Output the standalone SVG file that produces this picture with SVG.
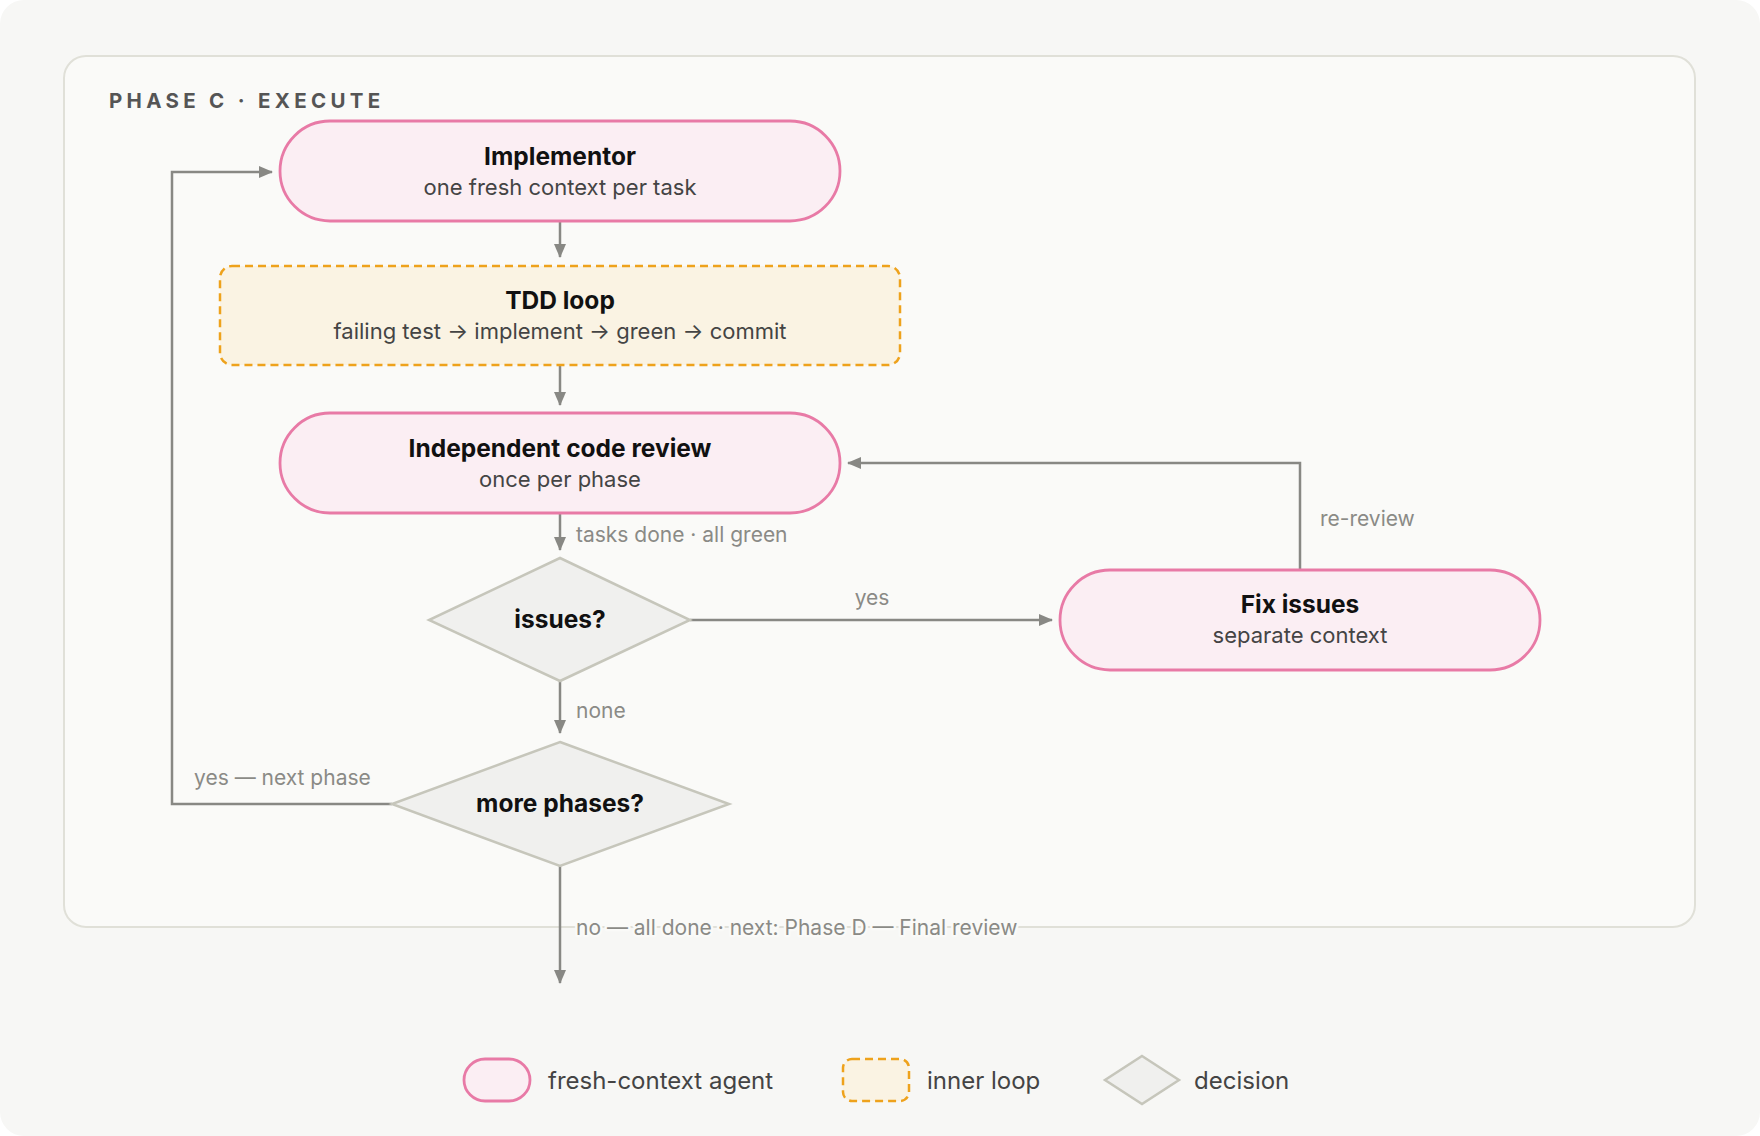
<svg xmlns="http://www.w3.org/2000/svg" width="1760" height="1136" viewBox="0 0 1760 1136">
<defs>
<style>
text{font-family:"Inter","Liberation Sans",sans-serif;dominant-baseline:central}
.agent{fill:#fbeef3;stroke:#e87aa6;stroke-width:2.8}
.loop{fill:#faf3e3;stroke:#eea21c;stroke-width:2.5;stroke-dasharray:8 5}
.dec{fill:#f0f0ee;stroke:#c6c6bb;stroke-width:2.5}
.t{font-size:24.5px;font-weight:700;fill:#111;text-anchor:middle}
.s{font-size:22px;fill:#444;text-anchor:middle}
.lbl{font-size:21px;fill:#8a8a86}
.conn{fill:none;stroke:#888884;stroke-width:2.5}
.leg{font-size:24px;fill:#444}
</style>
<marker id="ah" viewBox="0 0 14 12" refX="13" refY="6" markerWidth="14" markerHeight="12" markerUnits="userSpaceOnUse" orient="auto">
<path d="M0,0 L14,6 L0,12 Z" fill="#888884"/>
</marker>
</defs>
<rect x="0" y="0" width="1760" height="1136" rx="24" fill="#f7f7f5"/>
<rect x="64" y="56" width="1631" height="871" rx="22" fill="#fafaf8" stroke="#e0e0d8" stroke-width="2"/>
<text x="109" y="100" font-size="20.5" font-weight="700" fill="#555" letter-spacing="4.3">PHASE C · EXECUTE</text>

<g id="connectors">
<path class="conn" d="M560,221 V257" marker-end="url(#ah)"/>
<path class="conn" d="M560,365 V405" marker-end="url(#ah)"/>
<path class="conn" d="M560,513 V550" marker-end="url(#ah)"/>
<path class="conn" d="M690,620 H1052" marker-end="url(#ah)"/>
<path class="conn" d="M1300,570 V463 H848" marker-end="url(#ah)"/>
<path class="conn" d="M560,681 V733" marker-end="url(#ah)"/>
<path class="conn" d="M392,804 H172 V172 H272" marker-end="url(#ah)"/>
<path class="conn" d="M560,866 V983" marker-end="url(#ah)"/>
<text class="lbl" x="576" y="534">tasks done · all green</text>
<text class="lbl" x="872" y="597" text-anchor="middle">yes</text>
<text class="lbl" x="1320" y="518">re-review</text>
<text class="lbl" x="576" y="710">none</text>
<text class="lbl" x="194" y="777">yes — next phase</text>
<text class="lbl" x="576" y="927" stroke="#fafaf8" stroke-width="5" paint-order="stroke" stroke-linejoin="round">no — all done · next: Phase D — Final review</text>
</g>

<g id="implementor">
<rect class="agent" x="280" y="121" width="560" height="100" rx="50"/>
<text class="t" x="560" y="156">Implementor</text>
<text class="s" x="560" y="187">one fresh context per task</text>
</g>
<g id="tdd-loop">
<rect class="loop" x="220" y="266" width="680" height="99" rx="12"/>
<text class="t" x="560" y="300">TDD loop</text>
<text class="s" x="560" y="331">failing test → implement → green → commit</text>
</g>
<g id="code-review">
<rect class="agent" x="280" y="413" width="560" height="100" rx="50"/>
<text class="t" x="560" y="448">Independent code review</text>
<text class="s" x="560" y="479">once per phase</text>
</g>
<g id="issues">
<polygon class="dec" points="560,558 690,620 560,681 429,620"/>
<text class="t" x="560" y="619">issues?</text>
</g>
<g id="fix-issues">
<rect class="agent" x="1060" y="570" width="480" height="100" rx="50"/>
<text class="t" x="1300" y="604">Fix issues</text>
<text class="s" x="1300" y="635">separate context</text>
</g>
<g id="more-phases">
<polygon class="dec" points="560,742 729,804 560,866 392,804"/>
<text class="t" x="560" y="803">more phases?</text>
</g>

<g id="legend">
<rect class="agent" x="464" y="1059" width="66" height="42" rx="21"/>
<text class="leg" x="548" y="1080">fresh-context agent</text>
<rect class="loop" x="843" y="1059" width="66" height="42" rx="9"/>
<text class="leg" x="927" y="1080">inner loop</text>
<polygon class="dec" points="1142,1056 1179,1080 1142,1104 1105,1080"/>
<text class="leg" x="1194" y="1080">decision</text>
</g>
</svg>
